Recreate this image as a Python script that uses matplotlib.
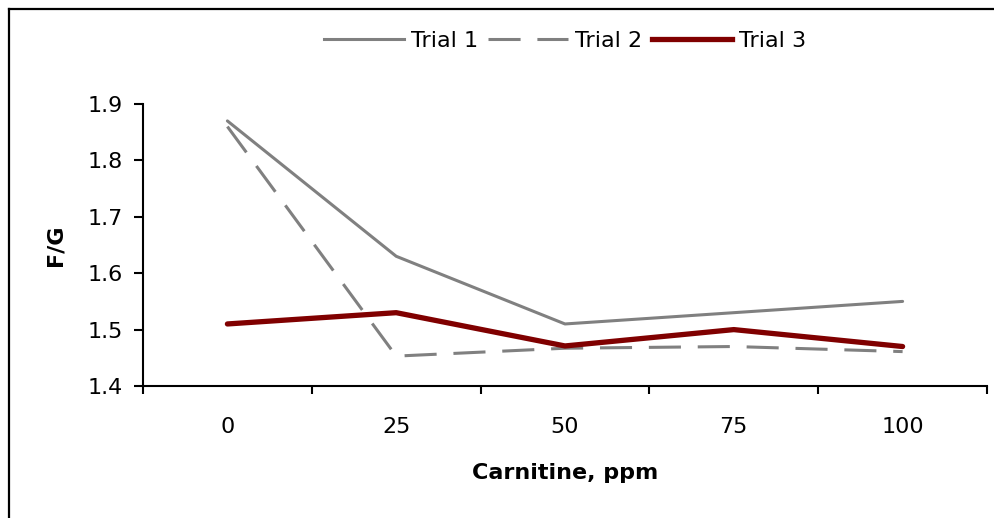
#!/usr/bin/env python3
"""F/G vs carnitine level, three trials (Excel-style line chart)."""

import matplotlib
matplotlib.use("Agg")
import matplotlib.pyplot as plt
from matplotlib.lines import Line2D

plt.rcParams["font.family"] = ["DejaVu Sans"]

carnitine = ["0", "25", "50", "75", "100"]
trial1 = [1.87, 1.63, 1.51, 1.53, 1.55]
trial2 = [1.86, 1.453, 1.467, 1.47, 1.461]
trial3 = [1.51, 1.53, 1.471, 1.50, 1.47]
yticks = [1.4, 1.5, 1.6, 1.7, 1.8, 1.9]

W, H = 995, 518
fig = plt.figure(figsize=(W / 100, H / 100), dpi=100)

# axes box in pixel coords
x0, x1, ytop, ybot = 143, 987, 104, 386
ax = fig.add_axes([x0 / W, (H - ybot) / H, (x1 - x0) / W, (ybot - ytop) / H])

GRAY, RED = "#808080", "#800000"
DASH = (0, (10.5, 5.5))

xs = list(range(len(carnitine)))
ax.plot(xs, trial1, color=GRAY, lw=2.2, solid_capstyle="round")
ax.plot(xs, trial2, color=GRAY, lw=2.2, linestyle=DASH)
ax.plot(xs, trial3, color=RED, lw=3.8, solid_capstyle="round")

ax.set_xlim(-0.5, len(carnitine) - 0.5)
ax.set_ylim(1.4, 1.9)
ax.set_yticks(yticks)
ax.set_yticklabels([f"{v:.1f}" for v in yticks])
ax.set_xticks(xs)
ax.set_xticklabels(carnitine)
ax.set_xticks([i - 0.5 for i in range(len(carnitine) + 1)], minor=True)

ax.tick_params(axis="x", which="major", length=0, pad=22, labelsize=16)
ax.tick_params(axis="x", which="minor", length=6, width=1.5, direction="out")
ax.tick_params(axis="y", length=6.5, width=1.5, direction="out", pad=8,
               labelsize=16)

for s in ("top", "right"):
    ax.spines[s].set_visible(False)
for s in ("left", "bottom"):
    ax.spines[s].set_linewidth(1.5)

ax.set_xlabel("Carnitine, ppm", fontsize=16, fontweight="bold", labelpad=19)
ax.set_ylabel("F/G", fontsize=16, fontweight="bold", labelpad=15.5)

handles = [
    Line2D([], [], color=GRAY, lw=2.2),
    Line2D([], [], color=GRAY, lw=2.2, linestyle=DASH),
    Line2D([], [], color=RED, lw=3.8),
]
fig.legend(handles, ["Trial 1", "Trial 2", "Trial 3"], loc="center",
           bbox_to_anchor=(0.568, 1 - 41 / H), ncol=3, frameon=False,
           fontsize=16, handlelength=3.6, handletextpad=0.3,
           columnspacing=0.45)

# chart frame (only top and left edges show in the crop)
fig.add_artist(Line2D([9 / W, 1.0], [1 - 9 / H, 1 - 9 / H], color="black",
                      lw=1.6, transform=fig.transFigure))
fig.add_artist(Line2D([9 / W, 9 / W], [0.0, 1 - 9 / H], color="black",
                      lw=1.6, transform=fig.transFigure))

fig.savefig("out.png", dpi=100)
